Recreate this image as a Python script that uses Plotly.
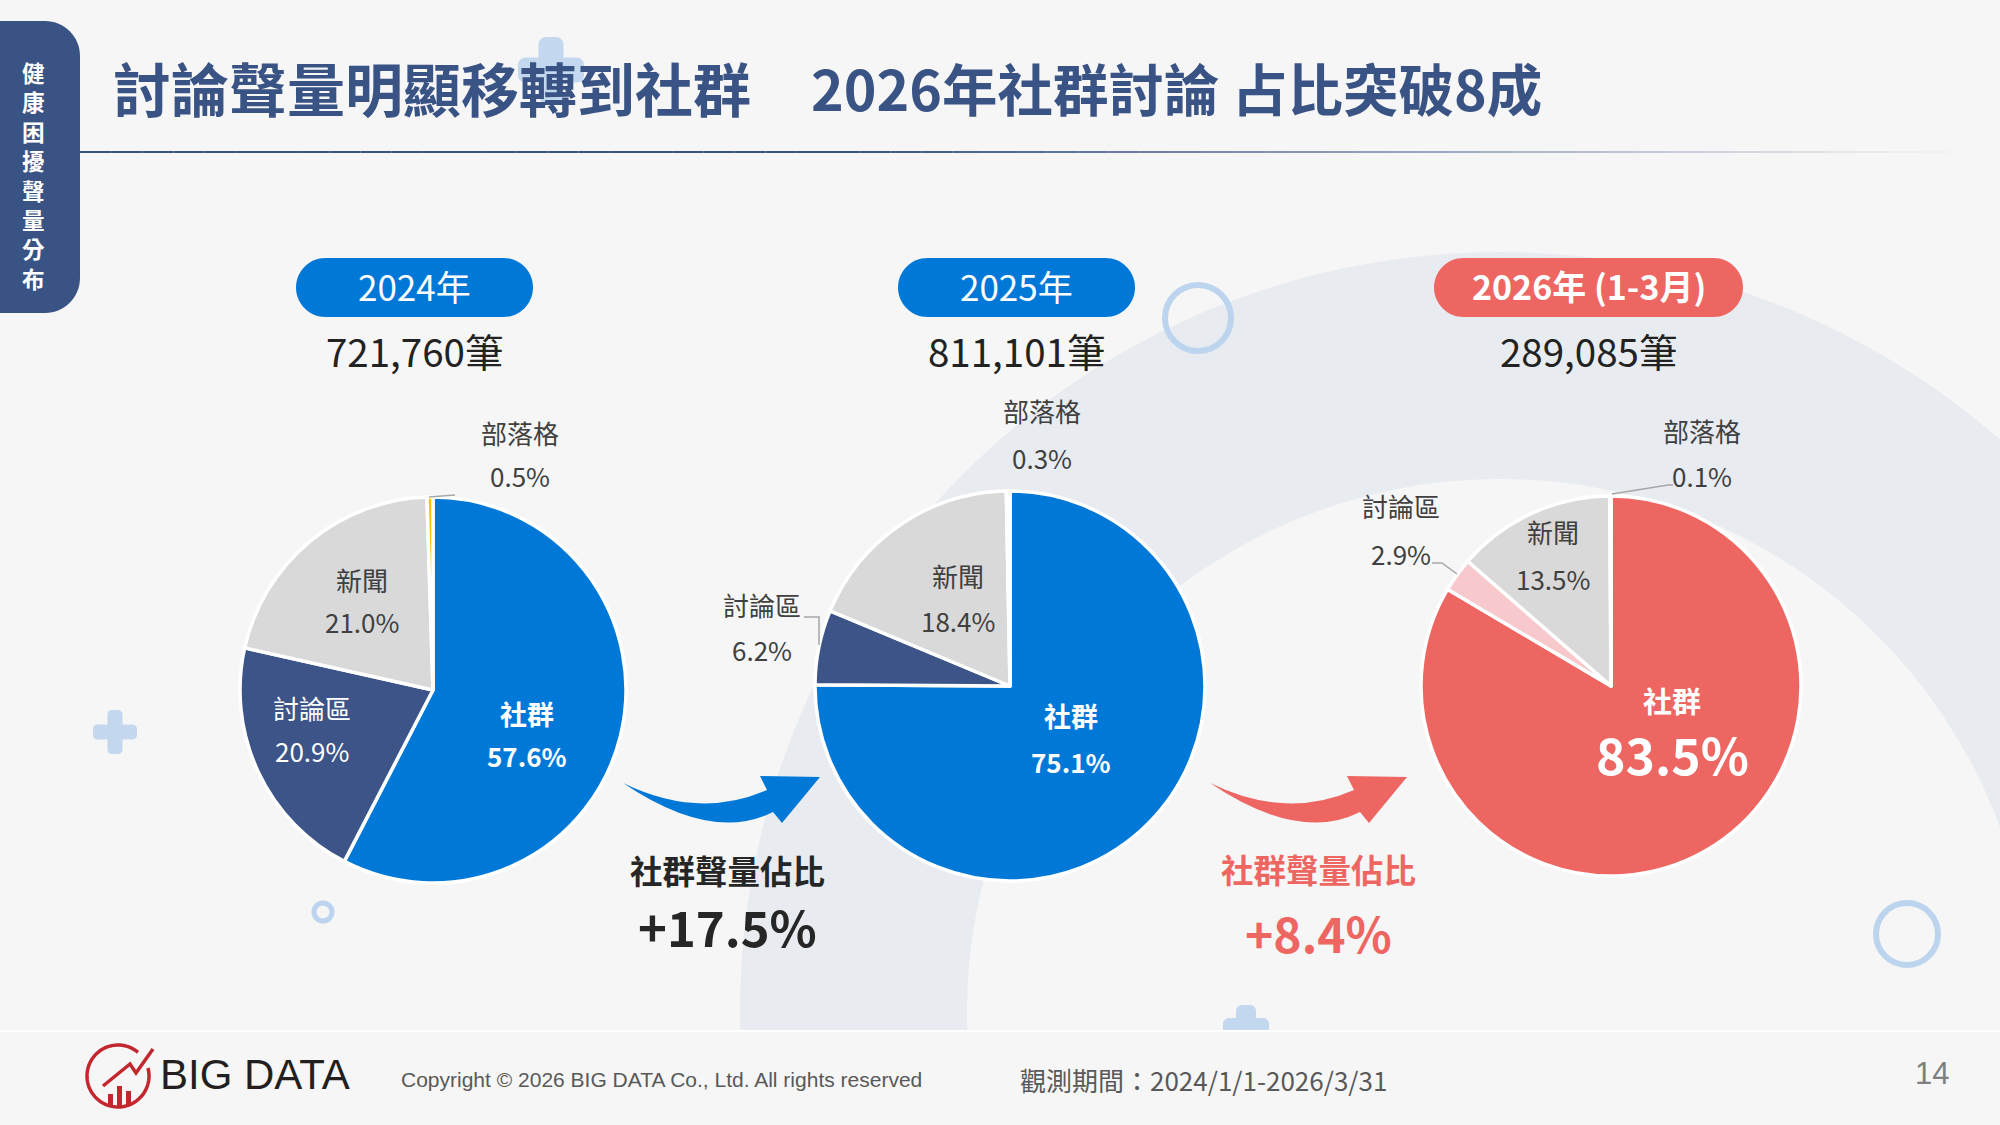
import math
import plotly.graph_objects as go

W, H = 2000, 1125

# ---------------- data ----------------
categories = ["社群", "討論區", "新聞", "部落格"]
periods = ["2024年", "2025年", "2026年 (1-3月)"]
totals = [721760, 811101, 289085]
share_2024 = [57.6, 20.9, 21.0, 0.5]
share_2025 = [75.1, 6.2, 18.4, 0.3]
share_2026 = [83.5, 2.9, 13.5, 0.1]
title_part1 = "討論聲量明顯移轉到社群"
title_part2 = "2026年社群討論 占比突破8成"
sidebar_text = "健康困擾聲量分布"
change_label = "社群聲量佔比"
copyright_text = "Copyright © 2026 BIG DATA Co., Ltd. All rights reserved"
period_text = "觀測期間：2024/1/1-2026/3/31"
page_no = "14"
brand = "BIG DATA"

# ---------------- styles ----------------
BG = "#F6F6F6"
NAVY = "#3A5385"
BLUE = "#0078D7"
CORAL = "#EE6661"
PINK = "#F7C9CC"
GRAY = "#D9D9D9"
GOLD = "#FFC000"
DARK = "#404040"
DECO = "#C3D8EF"
CJK = "Noto Sans CJK TC"
TEXT_DY = -3

pie_colors = [
    [BLUE, "#3C5488", GRAY, GOLD],
    [BLUE, "#3C5488", GRAY, GOLD],
    [CORAL, PINK, GRAY, GOLD],
]
pie_geom = [(433, 690, 193), (1010, 686, 195), (1611, 686, 190)]
pill_geom = [(296, 533), (898, 1135), (1434, 1743)]
pill_colors = [BLUE, BLUE, CORAL]

# label positions: x, y of name, y of percentage
label_layout = [
    {"社群": (527, 716, 758), "討論區": (312, 710, 753), "新聞": (362, 582, 624), "部落格": (520, 435, 478)},
    {"社群": (1071, 718, 764), "討論區": (762, 607, 653), "新聞": (958, 578, 623), "部落格": (1042, 414, 460)},
    {"社群": (1672, 703, 756), "討論區": (1401, 508, 556), "新聞": (1553, 534, 581), "部落格": (1702, 433, 478)},
]
inside_white = [{"社群", "討論區"}, {"社群"}, {"社群"}]

leaders = [
    [(429, 497), (455, 495)],
    [(819, 645), (819, 617), (804, 617)],
    [(1612, 494), (1668, 485), (1673, 485)],
    [(1457, 574), (1442, 563), (1432, 563)],
]


def X(x):
    return x / W


def Y(y):
    return 1 - y / H


def pt(x, y):
    return f"{X(x):.5f},{Y(y):.5f}"


K = 0.5523


def rrect(x0, y0, x1, y1, r):
    k = r * K
    p = f"M {pt(x0 + r, y0)} L {pt(x1 - r, y0)} C {pt(x1 - r + k, y0)} {pt(x1, y0 + r - k)} {pt(x1, y0 + r)} "
    p += f"L {pt(x1, y1 - r)} C {pt(x1, y1 - r + k)} {pt(x1 - r + k, y1)} {pt(x1 - r, y1)} "
    p += f"L {pt(x0 + r, y1)} C {pt(x0 + r - k, y1)} {pt(x0, y1 - r + k)} {pt(x0, y1 - r)} "
    p += f"L {pt(x0, y0 + r)} C {pt(x0, y0 + r - k)} {pt(x0 + r - k, y0)} {pt(x0 + r, y0)} Z"
    return p


def polyline(points):
    return "M " + " L ".join(pt(x, y) for x, y in points)


def arrow_path(dx):
    P = lambda x, y: pt(x + dx, y)
    return (f"M {P(623, 783)} Q {P(699, 820)} {P(767, 790)} L {P(760, 776)} L {P(820, 777)} "
            f"L {P(782, 823)} L {P(773, 812)} Q {P(712, 843)} {P(623, 783)} Z")


shapes = []
annos = []


def circle(cx, cy, r, fill=None, line=None, width=0, layer="below"):
    d = dict(type="circle", xref="paper", yref="paper",
             x0=X(cx - r), x1=X(cx + r), y0=Y(cy + r), y1=Y(cy - r), layer=layer)
    d["fillcolor"] = fill if fill else "rgba(0,0,0,0)"
    d["line"] = dict(color=line if line else "rgba(0,0,0,0)", width=width)
    shapes.append(d)


def path(p, fill=None, line=None, width=0, layer="below"):
    shapes.append(dict(type="path", xref="paper", yref="paper", path=p, layer=layer,
                       fillcolor=fill if fill else "rgba(0,0,0,0)",
                       line=dict(color=line if line else "rgba(0,0,0,0)", width=width)))


def text(x, y, s, size, color, family=CJK, xanchor="center", yanchor="middle"):
    annos.append(dict(x=X(x), y=Y(y + TEXT_DY), xref="paper", yref="paper", text=s, showarrow=False,
                      xanchor=xanchor, yanchor=yanchor,
                      font=dict(family=family, size=size, color=color)))


def plus(cx, cy, half, thick):
    t = thick / 2
    path(rrect(cx - half, cy - t, cx + half, cy + t, t * 0.6), fill=DECO)
    path(rrect(cx - t, cy - half, cx + t, cy + half, t * 0.6), fill=DECO)


# background ring
circle(1500, 1012, 760, fill="#E8ECF0")
circle(1500, 1012, 533, fill=BG)

# decorations
plus(551, 70, 33, 25)
plus(115, 732, 22, 15)
plus(1246, 1028, 23, 20)
circle(1198, 318, 33, line="#BCD4EE", width=6)
circle(1907, 934, 31, line="#BCD4EE", width=6)
circle(323, 912, 9, line="#BCD4EE", width=5)

# footer
shapes.append(dict(type="rect", xref="paper", yref="paper", x0=0, x1=1, y0=Y(1125), y1=Y(1031),
                   fillcolor=BG, line=dict(width=0), layer="below"))
shapes.append(dict(type="line", xref="paper", yref="paper", x0=0, x1=1, y0=Y(1031), y1=Y(1031),
                   line=dict(color="#FFFFFF", width=2), layer="below"))

# sidebar (one vertical stacked text)
path(rrect(-40, 21, 80, 313, 35), fill=NAVY)
text(33, 178, "<b>" + "<br>".join(sidebar_text) + "</b>", 22.6, "#FFFFFF")

# title + gradient underline
text(111, 90, f"<b>{title_part1}</b>", 58, NAVY, xanchor="left")
text(809, 90, f"<b>{title_part2}</b>", 55.5, NAVY, xanchor="left")
N = 60
x_start, x_end = 80, 1950
for i in range(N):
    xa = x_start + (x_end - x_start) * i / N
    xb = x_start + (x_end - x_start) * (i + 1) / N
    xm = (xa + xb) / 2
    op = 1.0 if xm < 850 else max(0.0, 1 - (xm - 850) / (x_end - 850))
    shapes.append(dict(type="line", xref="paper", yref="paper", x0=X(xa), x1=X(xb), y0=Y(152), y1=Y(152),
                       line=dict(color=NAVY, width=2), opacity=op, layer="below"))

# pills + totals
for i in range(3):
    x0, x1 = pill_geom[i]
    path(rrect(x0, 258, x1, 317, 29.5), fill=pill_colors[i])
    lab = periods[i] if i < 2 else f"<b>{periods[i]}</b>"
    text((x0 + x1) / 2, 288, lab, 35 if i < 2 else 34, "#FFFFFF")
    text((x0 + x1) / 2, 353, f"{totals[i]:,}筆", 38.5, "#222222")

# pies
fig = go.Figure()
shares = [share_2024, share_2025, share_2026]
for i in range(3):
    cx, cy, r = pie_geom[i]
    fig.add_trace(go.Pie(
        values=shares[i], labels=categories, sort=False, direction="clockwise", rotation=0,
        marker=dict(colors=pie_colors[i], line=dict(color="#FFFFFF", width=3.5)),
        textinfo="none", hoverinfo="skip", showlegend=False,
        domain=dict(x=[X(cx - r), X(cx + r)], y=[Y(cy + r), Y(cy - r)]),
    ))

# pie labels
for i in range(3):
    for j, cat in enumerate(categories):
        x, yn, yp = label_layout[i][cat]
        white = cat in inside_white[i]
        col = "#FFFFFF" if white else DARK
        pct = f"{shares[i][j]:.1f}%"
        if cat == "社群":
            if i == 2:
                text(x, yn, f"<b>{cat}</b>", 29, col)
                text(x, yp, f"<b>{pct}</b>", 50, col)
            else:
                text(x, yn, f"<b>{cat}</b>", 27, col)
                text(x, yp, f"<b>{pct}</b>", 26, col)
        else:
            text(x, yn, cat, 26, col)
            text(x, yp, pct, 26, col)

for pts in leaders:
    path(polyline(pts), line="#A6A6A6", width=1.5, layer="above")

# arrows + change texts
path(arrow_path(0), fill=BLUE, layer="above")
path(arrow_path(587), fill=CORAL, layer="above")
d1 = share_2025[0] - share_2024[0]
d2 = share_2026[0] - share_2025[0]
text(727, 872, f"<b>{change_label}</b>", 32.5, "#262626")
text(727, 928, f"<b>+{d1:.1f}%</b>", 49, "#262626")
text(1318, 871, f"<b>{change_label}</b>", 32.5, CORAL)
text(1318, 935, f"<b>+{d2:.1f}%</b>", 48, CORAL)

# footer logo
RED = "#C1272D"
arc = []
for k in range(0, 101):
    a = math.radians(75 + (360 - 75 + 40) * k / 100)
    arc.append((118 + 31 * math.sin(a), 1076 - 31 * math.cos(a)))
path(polyline(arc), line=RED, width=3.5, layer="above")
path(polyline([(103, 1086), (130, 1064), (136, 1073), (153, 1049)]), line=RED, width=3.5, layer="above")
for (bx0, by0, bx1, by1) in [(108, 1094, 113, 1105), (117, 1086, 122, 1106), (126, 1091, 131, 1105)]:
    shapes.append(dict(type="rect", xref="paper", yref="paper", x0=X(bx0), x1=X(bx1), y0=Y(by1), y1=Y(by0),
                       fillcolor=RED, line=dict(width=0), layer="above"))
text(158, 1077, brand, 42, "#231F20", family="Liberation Sans", xanchor="left")
text(399, 1082, copyright_text, 21, "#595959", family="Liberation Sans", xanchor="left")
text(1018, 1082, period_text, 26, "#595959", xanchor="left")
text(1932, 1076, page_no, 31, "#7F7F7F", family="Liberation Sans")

fig.update_layout(
    width=W, height=H, margin=dict(l=0, r=0, t=0, b=0),
    paper_bgcolor=BG, plot_bgcolor=BG,
    shapes=shapes, annotations=annos, showlegend=False,
)
fig.write_html("out.html", config={"displayModeBar": False})
